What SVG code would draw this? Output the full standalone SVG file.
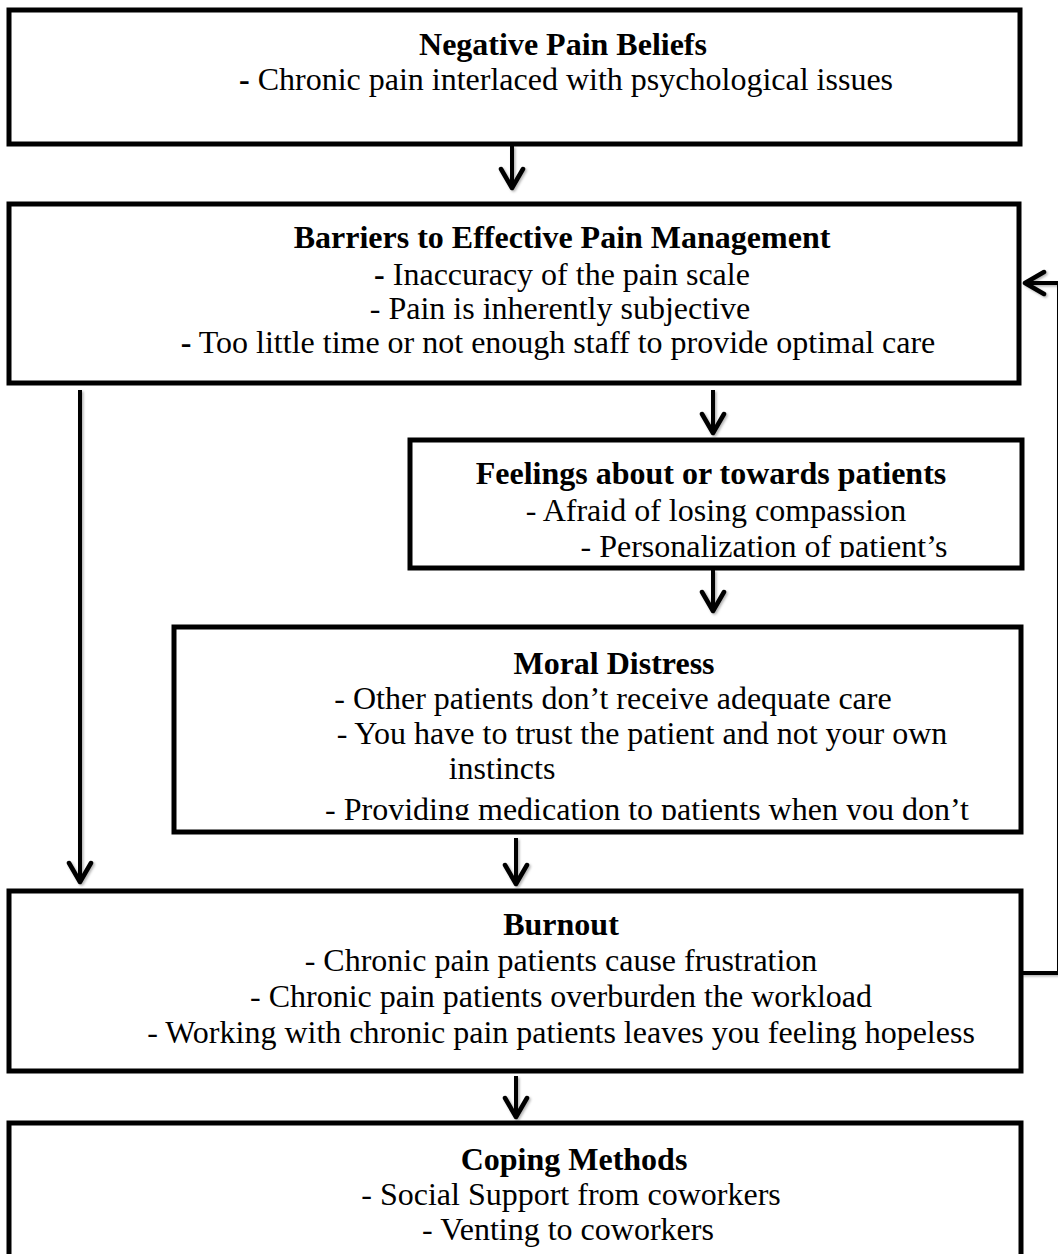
<svg xmlns="http://www.w3.org/2000/svg" width="1058" height="1254" viewBox="0 0 1058 1254">
  <style>
    .box { fill: #ffffff; stroke: #000000; stroke-width: 5; }
    .title { font-family: "Liberation Serif", "Times New Roman", serif; font-weight: bold; font-size: 32px; fill: #000; text-anchor: middle; }
    .item { font-family: "Liberation Serif", "Times New Roman", serif; font-size: 32px; fill: #000; text-anchor: middle; }
    .b { font-weight: bold; }
    .conn { fill: none; stroke: #000000; stroke-width: 4; }
  </style>
  <defs>
    <!-- soft grey shadow under the connector strokes; user-space region so thin lines keep their area -->
    <filter id="soft" filterUnits="userSpaceOnUse" x="0" y="0" width="1058" height="1254">
      <feDropShadow dx="1.5" dy="1.5" stdDeviation="1" flood-color="#000" flood-opacity="0.3"/>
    </filter>
    <marker id="chev" viewBox="0 -14 26 28" refX="22" refY="0" markerWidth="26" markerHeight="28" markerUnits="userSpaceOnUse" orient="auto">
      <path d="M3,-11 L22,0 L3,11" fill="none" stroke="#000" stroke-width="4.5" stroke-linecap="round" stroke-linejoin="round"/>
    </marker>
    <clipPath id="clipFeel"><rect x="412" y="442" width="608" height="116"/></clipPath>
    <clipPath id="clipMoral"><rect x="175" y="629" width="845" height="191"/></clipPath>
  </defs>
  <rect width="1058" height="1254" fill="#ffffff"/>

  <g id="connectors" filter="url(#soft)">
    <line class="conn" x1="512" y1="146" x2="512" y2="188" marker-end="url(#chev)"/>
    <line class="conn" x1="80" y1="390" x2="80" y2="882" marker-end="url(#chev)"/>
    <line class="conn" x1="713" y1="390" x2="713" y2="433" marker-end="url(#chev)"/>
    <line class="conn" x1="713" y1="570" x2="713" y2="611" marker-end="url(#chev)"/>
    <line class="conn" x1="516" y1="838" x2="516" y2="884" marker-end="url(#chev)"/>
    <line class="conn" x1="516" y1="1076" x2="516" y2="1117" marker-end="url(#chev)"/>
    <polyline class="conn" points="1021,973 1059,973 1059,283 1025,283" marker-end="url(#chev)"/>
  </g>

  <g id="negative-pain-beliefs">
    <rect class="box" x="9" y="10" width="1011" height="134"/>
    <text class="title" x="563" y="55">Negative Pain Beliefs</text>
    <text class="item" x="566" y="90"><tspan class="b">-</tspan> Chronic pain interlaced with psychological issues</text>
  </g>

  <g id="barriers">
    <rect class="box" x="9" y="204" width="1010" height="179"/>
    <text class="title" x="562" y="248">Barriers to Effective Pain Management</text>
    <text class="item" x="562" y="285"><tspan class="b">-</tspan> Inaccuracy of the pain scale</text>
    <text class="item" x="560" y="319">- Pain is inherently subjective</text>
    <text class="item" x="558" y="353"><tspan class="b">-</tspan> Too little time or not enough staff to provide optimal care</text>
  </g>

  <g id="feelings">
    <rect class="box" x="410" y="440" width="612" height="128"/>
    <g clip-path="url(#clipFeel)">
      <text class="title" x="711" y="484">Feelings about or towards patients</text>
      <text class="item" x="716" y="521">- Afraid of losing compassion</text>
      <text class="item" x="764" y="557">- Personalization of patient’s</text>
    </g>
  </g>

  <g id="moral-distress">
    <rect class="box" x="174" y="627" width="847" height="205"/>
    <g clip-path="url(#clipMoral)">
      <text class="title" x="614" y="674">Moral Distress</text>
      <text class="item" x="613" y="709">- Other patients don’t receive adequate care</text>
      <text class="item" x="642" y="744">- You have to trust the patient and not your own</text>
      <text class="item" x="502" y="779">instincts</text>
      <text class="item" x="647" y="820">- Providing medication to patients when you don’t</text>
    </g>
  </g>

  <g id="burnout">
    <rect class="box" x="9" y="891" width="1012" height="180"/>
    <text class="title" x="561" y="935">Burnout</text>
    <text class="item" x="561" y="971">- Chronic pain patients cause frustration</text>
    <text class="item" x="561" y="1007">- Chronic pain patients overburden the workload</text>
    <text class="item" x="561" y="1043">- Working with chronic pain patients leaves you feeling hopeless</text>
  </g>

  <g id="coping-methods">
    <rect class="box" x="9" y="1123" width="1012" height="145"/>
    <text class="title" x="574" y="1170">Coping Methods</text>
    <text class="item" x="571" y="1205">- Social Support from coworkers</text>
    <text class="item" x="568" y="1240">- Venting to coworkers</text>
  </g>
</svg>
